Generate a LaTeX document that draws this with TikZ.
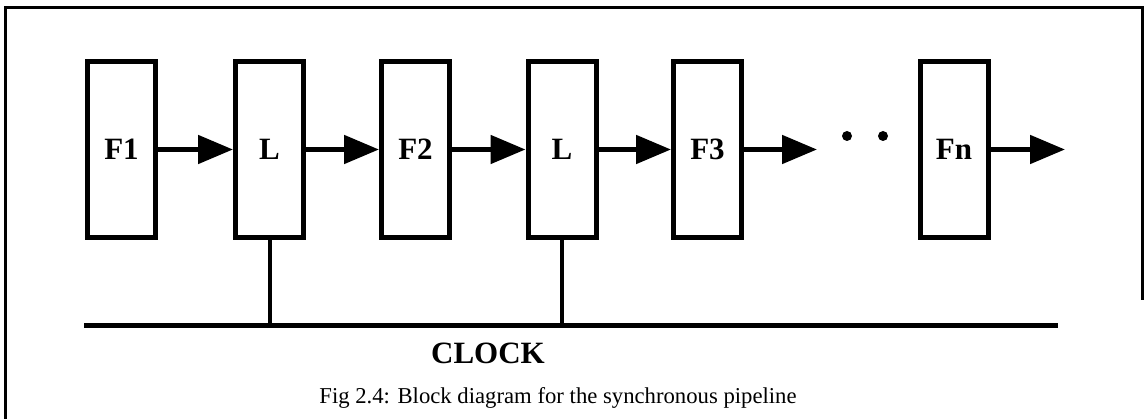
\documentclass[tikz,border=0pt]{standalone}
\usepackage{fontspec}
\setmainfont{Liberation Serif}
\usepackage{tikz}
\usetikzlibrary{arrows.meta,positioning}
\tikzset{
  frame/.style={draw=black,line width=3pt},
  stage/.style={draw=black,line width=5pt,minimum width=68pt,minimum height=176pt,inner sep=0pt,font=\bfseries\fontsize{31}{31}\selectfont},
  flow/.style={-{Triangle[length=35pt,width=28pt]},draw=black,line width=5pt},
  bus/.style={draw=black,line width=5pt},
  tap/.style={draw=black,line width=4pt},
  dot/.style={fill=black}
}
\begin{document}
\begin{tikzpicture}[x=1pt,y=1pt]
  \useasboundingbox (0,0) rectangle (1145,419);
  \draw[frame] (5,-5)--(5,411)--(1142,411)--(1142,119);
  \node[stage] (f1) at (121.5,269.5) {F1};
  \node[stage] (l1) at (269.5,269.5) {L};
  \node[stage] (f2) at (415.5,269.5) {F2};
  \node[stage] (l2) at (562,269.5) {L};
  \node[stage] (f3) at (707.5,269.5) {F3};
  \node[stage] (fn) at (954,269.5) {Fn};
  \coordinate (gap) at (817,269.5);
  \coordinate (out) at (1065,269.5);
  \draw[flow] (f1.east)--(l1.west);
  \draw[flow] (l1.east)--(f2.west);
  \draw[flow] (f2.east)--(l2.west);
  \draw[flow] (l2.east)--(f3.west);
  \draw[flow] (f3.east)--(gap);
  \draw[flow] (fn.east)--(out);
  \fill[dot] (847,283) circle (5pt) (883,283) circle (5pt);
  % clock line
  \coordinate (clkL) at (84,93); \coordinate (clkR) at (1058,93);
  \draw[bus] (clkL)--(clkR);
  \draw[tap] (l1.south)--(l1.south |- clkL);
  \draw[tap] (l2.south)--(l2.south |- clkL);
  \node[font=\bfseries\fontsize{31}{31}\selectfont] (clk) at (488,66) {CLOCK};
  \node[font=\fontsize{22.7}{22.7}\selectfont] (cap) at (558,21) {Fig 2.4: Block diagram for the synchronous pipeline};
\end{tikzpicture}
\end{document}
